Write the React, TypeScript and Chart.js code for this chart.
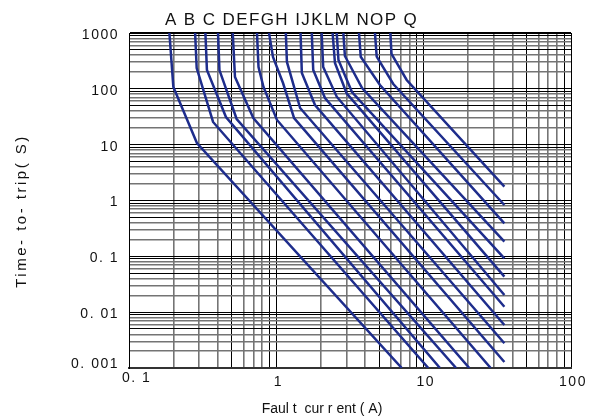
import React, { useEffect, useRef } from "react";
import { Chart, registerables } from "chart.js";

Chart.register(...registerables);

// Curve names and header text shown above the plot
const curveNames = ["A", "B", "C", "D", "E", "F", "G", "H", "I", "J", "K", "L", "M", "N", "O", "P", "Q"];
const headerLabel = "A B C DEFGH IJKLM NOP Q";

// Each curve: [fault current (A), time-to-trip (s)]
const curveA = [[0.188, 1000], [0.2, 108], [0.289, 10.7], [7.1, 0.001]];
const curveB = [[0.281, 1000], [0.288, 236], [0.372, 25.5], [10.75, 0.001]];
const curveC = [[0.33, 1000], [0.338, 217], [0.455, 31.3], [12.9, 0.001]];
const curveD = [[0.402, 1000], [0.411, 217], [0.538, 28.8], [16.6, 0.001]];
const curveE = [[0.506, 1000], [0.524, 163], [0.698, 30], [20.4, 0.001]];
const curveF = [[0.739, 1000], [0.757, 246], [0.818, 108], [1.01, 27.7], [28.5, 0.001]];
const curveG = [[0.892, 1000], [0.949, 372], [1.11, 127], [1.32, 30], [35.3, 0.00128]];
const curveH = [[1.16, 1000], [1.18, 303], [1.45, 45.4], [35.3, 0.00277]];
const curveI = [[1.46, 1000], [1.49, 192], [1.83, 51.3], [35.3, 0.00589]];
const curveJ = [[1.74, 1000], [1.78, 217], [2.14, 68.5], [35.3, 0.0125]];
const curveK = [[2.03, 1000], [2.08, 246], [2.57, 72.3], [35.3, 0.0203]];
const curveL = [[2.41, 1000], [2.5, 290], [3.0, 83.2], [35.3, 0.0432]];
const curveM = [[2.57, 1000], [2.64, 328], [3.26, 87.7], [35.3, 0.0922]];
const curveN = [[2.85, 1000], [2.92, 387], [3.82, 103.5], [35.3, 0.183]];
const curveO = [[3.64, 1000], [3.74, 376], [5.05, 117], [35.3, 0.39]];
const curveP = [[4.67, 1000], [4.8, 376], [6.22, 122], [35.3, 0.83]];
const curveQ = [[5.94, 1000], [6.05, 421], [7.67, 144], [35.3, 1.77]];
const curves = [curveA, curveB, curveC, curveD, curveE, curveF, curveG, curveH, curveI, curveJ, curveK, curveL, curveM, curveN, curveO, curveP, curveQ];

// Axis ranges and labels
const xMin = 0.1;
const xMax = 100;
const yMin = 0.001;
const yMax = 1000;
const xTickValues = [0.1, 1, 10, 100];
const xTickLabels = ["0. 1", "1", "10", "100"];
const yTickValues = [1000, 100, 10, 1, 0.1, 0.01, 0.001];
const yTickLabels = ["1000", "100", "10", "1", "0. 1", "0. 01", "0. 001"];
const xTitle = "Faul t  cur r ent ( A)";
const yTitle = "Time- to- trip( S)";

const LINE_COLOR = "#1e2d8c";
const FONT = '"Liberation Sans", Arial, sans-serif';

function logGridValues(min: number, max: number) {
  const out: { value: number }[] = [];
  const e0 = Math.round(Math.log10(min));
  const e1 = Math.round(Math.log10(max));
  for (let e = e0; e < e1; e++) {
    for (let m = 1; m <= 9; m++) out.push({ value: m * Math.pow(10, e) });
  }
  out.push({ value: max });
  return out;
}

function mantissa(v: number) {
  const e = Math.floor(Math.log10(v) + 1e-9);
  return Math.round(v / Math.pow(10, e));
}

function gridColor(ctx: any) {
  const v = ctx.tick ? ctx.tick.value : 1;
  const m = mantissa(v);
  return m === 1 || m === 5 || m === 9 ? "#000000" : "#747474";
}
function gridWidth(ctx: any) {
  const v = ctx.tick ? ctx.tick.value : 1;
  const m = mantissa(v);
  return m === 1 || m === 5 || m === 9 ? 1 : 1.6;
}

const textPlugin = {
  id: "textPlugin",
  afterDraw(chart: any) {
    const { ctx, chartArea, scales } = chart;
    const xs = scales.x;
    const ys = scales.y;
    ctx.save();
    ctx.fillStyle = "#111111";

    // header letters
    ctx.font = `17px ${FONT}`;
    (ctx as any).letterSpacing = "1.4px";
    ctx.textAlign = "left";
    ctx.textBaseline = "alphabetic";
    ctx.fillText(headerLabel, chartArea.left + 36, chartArea.top - 8);

    // y tick labels
    ctx.font = `14px ${FONT}`;
    (ctx as any).letterSpacing = "1.5px";
    ctx.textAlign = "right";
    ctx.textBaseline = "middle";
    yTickValues.forEach((v, i) => {
      const p = ys.getPixelForValue(v);
      const py = i === yTickValues.length - 1 ? p - 4 : p + 2;
      ctx.fillText(yTickLabels[i], chartArea.left - 10, py);
    });

    // x tick labels
    xTickValues.forEach((v, i) => {
      const p = xs.getPixelForValue(v);
      if (i === 0) {
        ctx.textAlign = "left";
        ctx.fillText(xTickLabels[i], p - 7, chartArea.bottom + 10);
      } else {
        ctx.textAlign = "center";
        ctx.fillText(xTickLabels[i], p + 2, chartArea.bottom + 14);
      }
    });

    // x title
    ctx.font = `14px ${FONT}`;
    (ctx as any).letterSpacing = "0px";
    ctx.textAlign = "center";
    ctx.fillText(xTitle, chartArea.left + 193, chartArea.bottom + 41);

    // y title
    ctx.font = `15px ${FONT}`;
    (ctx as any).letterSpacing = "2.5px";
    ctx.translate(22, chartArea.top + 178);
    ctx.rotate(-Math.PI / 2);
    ctx.textAlign = "center";
    ctx.fillText(yTitle, 0, 0);
    (ctx as any).letterSpacing = "0px";
    ctx.restore();
  },
};

export default function App() {
  const canvasRef = useRef<HTMLCanvasElement | null>(null);

  useEffect(() => {
    if (!canvasRef.current) return;
    const chart = new Chart(canvasRef.current, {
      type: "line",
      data: {
        datasets: curves.map((c, i) => ({
          label: curveNames[i],
          data: c.map(([x, y]) => ({ x, y })),
          borderColor: LINE_COLOR,
          backgroundColor: LINE_COLOR,
          borderWidth: 2.5,
          pointRadius: 0,
          tension: 0,
          fill: false,
        })),
      },
      options: {
        responsive: false,
        animation: false,
        layout: { padding: { top: 33, right: 20, left: 0, bottom: 0 } },
        plugins: {
          legend: { display: false },
          tooltip: { enabled: false },
          title: { display: false },
        },
        scales: {
          x: {
            type: "logarithmic",
            min: xMin,
            max: xMax,
            afterBuildTicks: (scale: any) => {
              scale.ticks = logGridValues(xMin, xMax);
            },
            afterFit: (scale: any) => {
              scale.height = 51;
            },
            ticks: { display: false },
            grid: { color: gridColor, lineWidth: gridWidth, drawTicks: false },
            border: { display: true, color: "#333333", width: 2 },
          },
          y: {
            type: "logarithmic",
            min: yMin,
            max: yMax,
            afterBuildTicks: (scale: any) => {
              scale.ticks = logGridValues(yMin, yMax);
            },
            afterFit: (scale: any) => {
              scale.width = 129;
            },
            ticks: { display: false },
            grid: { color: gridColor, lineWidth: (c: any) => (c.tick && c.tick.value === yMax ? 2 : gridWidth(c)), drawTicks: false },
            border: { display: true, color: "#000000", width: 1 },
          },
        },
      },
      plugins: [textPlugin],
    });
    return () => chart.destroy();
  }, []);

  return (
    <div style={{ position: "fixed", left: 0, top: 0, width: 591, height: 419, background: "#ffffff" }}>
      <canvas ref={canvasRef} width={591} height={419} />
    </div>
  );
}
